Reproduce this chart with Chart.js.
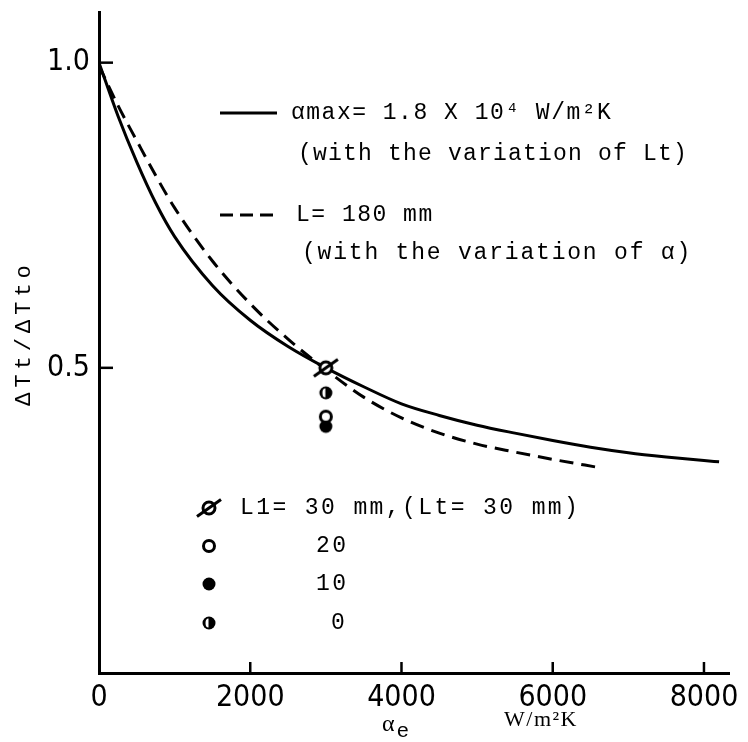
<!DOCTYPE html>
<html><head><meta charset="utf-8">
<script src="https://cdn.jsdelivr.net/npm/chart.js@4"></script>
<style>html,body{margin:0;padding:0;background:#fff}#wrap{width:748px;height:742px;position:relative}</style>
</head><body><div id="wrap"><canvas id="c"></canvas></div>
<script>
// ---- data ----
const solidX = [0, 250, 500, 750, 1000, 1500, 2000, 2500, 3000, 3500, 4000, 4500, 5000, 5500, 6000, 6500, 7000, 7500, 8000, 8200];
const solidY = [1.0, 0.913, 0.837, 0.77, 0.715, 0.635, 0.578, 0.535, 0.5, 0.469, 0.441, 0.422, 0.406, 0.393, 0.381, 0.370, 0.361, 0.354, 0.348, 0.346];
const dashX = [0, 250, 500, 750, 1000, 1500, 2000, 2500, 3000, 3500, 4000, 4500, 5000, 5500, 6000, 6640];
const dashY = [0.995, 0.93, 0.872, 0.815, 0.762, 0.675, 0.605, 0.547, 0.497, 0.452, 0.418, 0.393, 0.375, 0.362, 0.350, 0.336];
const markerLabels = ['L1= 30 mm,(Lt= 30 mm)', '20', '10', '0'];
const markerX = [3000, 3000, 3000, 3000];
const markerY = [0.5, 0.42, 0.404, 0.459];
const markerKinds = ['slash', 'open', 'filled', 'half'];
const xTicks = [0, 2000, 4000, 6000, 8000];
const xTickLabels = ['0', '2000', '4000', '6000', '8000'];
const yTicks = [0.5, 1.0];
const yTickLabels = ['0.5', '1.0'];
const lineLabels = ['αmax= 1.8 X 10⁴ W/m²K', '(with the variation of Lt)', 'L= 180 mm', '(with the variation of α)'];
const yTitle = 'ΔTt/ΔTto';
const xTitle = ['α', 'e'];
const xUnit = 'W/m²K';

// ---- marker images ----
function makeMarker(kind) {
  const c = document.createElement('canvas');
  c.width = 28; c.height = 28;
  const g = c.getContext('2d');
  g.translate(14, 14);
  g.strokeStyle = '#000'; g.fillStyle = '#000';
  if (kind === 'filled') {
    g.beginPath(); g.arc(0, 0, 6.5, 0, Math.PI * 2); g.fill();
  } else if (kind === 'open') {
    g.lineWidth = 3;
    g.beginPath(); g.arc(0, 0, 5.5, 0, Math.PI * 2); g.fillStyle = '#fff'; g.fill(); g.stroke();
  } else if (kind === 'half') {
    g.beginPath(); g.arc(0, 0, 6.5, 0, Math.PI * 2); g.fill();
    g.fillStyle = '#fff';
    g.beginPath(); g.ellipse(-0.5, 0, 3, 4.5, 0, Math.PI / 2, Math.PI * 1.5); g.closePath(); g.fill();
  } else if (kind === 'slash') {
    g.lineWidth = 3;
    g.beginPath(); g.arc(0, 0, 6, 0, Math.PI * 2); g.fillStyle = '#fff'; g.fill(); g.stroke();
    g.lineWidth = 3;
    g.beginPath(); g.moveTo(-12, 8.5); g.lineTo(12, -8.5); g.stroke();
  }
  return c;
}
const markerImgs = markerKinds.map(makeMarker);

const pts = (xs, ys) => xs.map((x, i) => ({ x, y: ys[i] }));

const markerDatasets = markerX.map((x, i) => ({
  label: markerLabels[i],
  data: [{ x, y: markerY[i] }],
  pointStyle: markerImgs[i],
  pointRadius: 7,
  showLine: false
}));

const MONO = "'Liberation Mono', 'DejaVu Sans Mono', monospace";
function txt(ctx, s, x, y, size, spacing, align, family) {
  ctx.save();
  ctx.font = size + 'px ' + (family || MONO);
  ctx.letterSpacing = spacing + 'px';
  ctx.textAlign = align || 'left';
  ctx.textBaseline = 'middle';
  ctx.fillStyle = '#000';
  ctx.fillText(s, x, y);
  ctx.restore();
}

const decor = {
  id: 'decor',
  afterDraw(chart) {
    const ctx = chart.ctx;
    const xs = chart.scales.x, ys = chart.scales.y;
    const area = chart.chartArea;
    ctx.save();
    ctx.strokeStyle = '#000';
    ctx.lineWidth = 2.5;
    // inward tick marks
    xTicks.forEach(v => {
      if (v === 0) return;
      const px = xs.getPixelForValue(v);
      ctx.beginPath(); ctx.moveTo(px, area.bottom); ctx.lineTo(px, area.bottom - 11); ctx.stroke();
    });
    yTicks.forEach(v => {
      const py = ys.getPixelForValue(v);
      ctx.beginPath(); ctx.moveTo(area.left, py); ctx.lineTo(area.left + 14, py); ctx.stroke();
    });
    // line legend
    ctx.lineWidth = 3;
    ctx.beginPath(); ctx.moveTo(220, 113); ctx.lineTo(277, 113); ctx.stroke();
    ctx.setLineDash([13, 7]);
    ctx.beginPath(); ctx.moveTo(220, 215); ctx.lineTo(277, 215); ctx.stroke();
    ctx.setLineDash([]);
    txt(ctx, lineLabels[0], 291, 113, 23, 1.5);
    txt(ctx, lineLabels[1], 298, 154, 23, 1.2);
    txt(ctx, lineLabels[2], 296, 215, 23, 1.5);
    txt(ctx, lineLabels[3], 302, 253, 23, 1.8);
    // marker legend
    const rows = [508, 546, 584, 623];
    const tx = [240, 316, 316, 331];
    rows.forEach((ry, i) => {
      ctx.drawImage(markerImgs[i], 209 - 14, ry - 14);
      txt(ctx, markerLabels[i], tx[i], ry, 23, 2.4);
    });
    // axis titles
    ctx.save();
    ctx.translate(24, 333);
    ctx.rotate(-Math.PI / 2);
    txt(ctx, yTitle, 0, 0, 22, 5, 'center');
    ctx.restore();
    ctx.fillStyle = '#000';
    ctx.textBaseline = 'middle';
    ctx.font = "24px 'Liberation Serif', serif";
    ctx.fillText(xTitle[0], 382, 725);
    ctx.font = "21px 'Liberation Sans', sans-serif";
    ctx.fillText(xTitle[1], 397, 731);
    txt(ctx, xUnit, 504, 720, 22, 1.5, 'left', "'Liberation Serif', serif");
    ctx.restore();
  }
};

const TICKFONT = { family: "'Liberation Sans Narrow', 'DejaVu Sans Condensed', sans-serif", size: 30 };

new Chart(document.getElementById('c'), {
  type: 'scatter',
  data: {
    datasets: [
      ...markerDatasets,
      { label: lineLabels[0], data: pts(solidX, solidY), showLine: true, borderColor: '#000', borderWidth: 3,
        pointRadius: 0, cubicInterpolationMode: 'monotone', fill: false },
      { label: lineLabels[2], data: pts(dashX, dashY), showLine: true, borderColor: '#000', borderWidth: 3,
        borderDash: [14, 8], pointRadius: 0, cubicInterpolationMode: 'monotone', fill: false }
    ]
  },
  options: {
    responsive: true,
    maintainAspectRatio: false,
    animation: false,
    events: [],
    layout: { padding: { top: 12, right: 19, left: 0, bottom: 0 } },
    plugins: { legend: { display: false }, tooltip: { enabled: false } },
    scales: {
      x: {
        type: 'linear', min: 0, max: 8331,
        afterBuildTicks: s => { s.ticks = xTicks.map(v => ({ value: v })); },
        afterFit: s => { s.height = 69; s.paddingLeft = 0; s.paddingRight = 0; },
        grid: { display: false, drawTicks: false },
        border: { display: true, color: '#000', width: 3 },
        ticks: { font: TICKFONT, color: '#000', padding: 7, maxRotation: 0,
          callback: (v) => xTickLabels[xTicks.indexOf(v)] }
      },
      y: {
        type: 'linear', min: 0, max: 1.083,
        afterBuildTicks: s => { s.ticks = yTicks.map(v => ({ value: v })); },
        afterFit: s => { s.width = 99; s.paddingTop = 0; s.paddingBottom = 0; },
        grid: { display: false, drawTicks: false },
        border: { display: true, color: '#000', width: 3 },
        ticks: { font: TICKFONT, color: '#000', padding: 9,
          callback: (v) => yTickLabels[yTicks.indexOf(v)] }
      }
    }
  },
  plugins: [decor]
});
</script>
</body></html>
